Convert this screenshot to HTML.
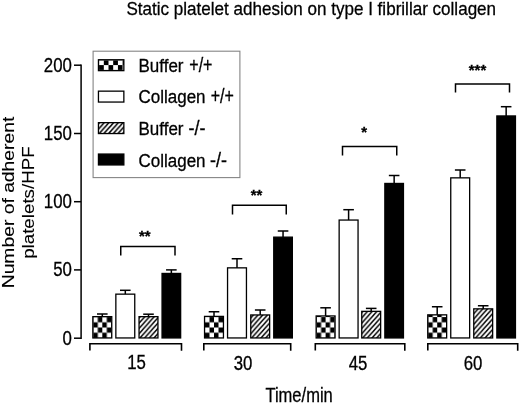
<!DOCTYPE html>
<html><head><meta charset="utf-8"><title>Static platelet adhesion</title>
<style>html,body{margin:0;padding:0;background:#fff}svg{display:block}text{font-family:"Liberation Sans",Arial,sans-serif;fill:#000;stroke:#000;stroke-width:0.3px}</style>
</head><body>
<svg width="520" height="404" viewBox="0 0 520 404">
<defs>
<pattern id="hat0" patternUnits="userSpaceOnUse" x="140.0" y="0" width="4.7" height="5.28"><rect width="4.7" height="5.28" fill="#fff"/><path d="M-1,6.4 L5.7,-1.12 M-5.7,6.4 L1,-1.12 M3.7,6.4 L10.4,-1.12" stroke="#000" stroke-width="1.5"/></pattern><pattern id="hat1" patternUnits="userSpaceOnUse" x="251.70000000000002" y="0" width="4.7" height="5.28"><rect width="4.7" height="5.28" fill="#fff"/><path d="M-1,6.4 L5.7,-1.12 M-5.7,6.4 L1,-1.12 M3.7,6.4 L10.4,-1.12" stroke="#000" stroke-width="1.5"/></pattern><pattern id="hat2" patternUnits="userSpaceOnUse" x="362.70000000000005" y="0" width="4.7" height="5.28"><rect width="4.7" height="5.28" fill="#fff"/><path d="M-1,6.4 L5.7,-1.12 M-5.7,6.4 L1,-1.12 M3.7,6.4 L10.4,-1.12" stroke="#000" stroke-width="1.5"/></pattern><pattern id="hat3" patternUnits="userSpaceOnUse" x="475.70000000000005" y="0" width="4.7" height="5.28"><rect width="4.7" height="5.28" fill="#fff"/><path d="M-1,6.4 L5.7,-1.12 M-5.7,6.4 L1,-1.12 M3.7,6.4 L10.4,-1.12" stroke="#000" stroke-width="1.5"/></pattern><pattern id="hatL" patternUnits="userSpaceOnUse" x="1.9" y="0" width="4.7" height="5.28"><rect width="4.7" height="5.28" fill="#fff"/><path d="M-1,6.4 L5.7,-1.12 M-5.7,6.4 L1,-1.12 M3.7,6.4 L10.4,-1.12" stroke="#000" stroke-width="1.6"/></pattern><pattern id="chk0" patternUnits="userSpaceOnUse" x="93.3" y="327.5" width="9.0" height="10.4"><rect width="9.0" height="10.4" fill="#fff"/><rect x="4.5" y="0" width="4.5" height="5.2" fill="#000"/><rect x="0" y="5.2" width="4.5" height="5.2" fill="#000"/></pattern><pattern id="chk1" patternUnits="userSpaceOnUse" x="205.0" y="327.5" width="9.0" height="10.4"><rect width="9.0" height="10.4" fill="#fff"/><rect x="4.5" y="0" width="4.5" height="5.2" fill="#000"/><rect x="0" y="5.2" width="4.5" height="5.2" fill="#000"/></pattern><pattern id="chk2" patternUnits="userSpaceOnUse" x="316.6" y="327.5" width="9.0" height="10.4"><rect width="9.0" height="10.4" fill="#fff"/><rect x="4.5" y="0" width="4.5" height="5.2" fill="#000"/><rect x="0" y="5.2" width="4.5" height="5.2" fill="#000"/></pattern><pattern id="chk3" patternUnits="userSpaceOnUse" x="428.20000000000005" y="327.5" width="9.0" height="10.4"><rect width="9.0" height="10.4" fill="#fff"/><rect x="4.5" y="0" width="4.5" height="5.2" fill="#000"/><rect x="0" y="5.2" width="4.5" height="5.2" fill="#000"/></pattern><pattern id="chkL" patternUnits="userSpaceOnUse" x="99.1" y="60.3" width="9.4" height="9.6"><rect width="9.4" height="9.6" fill="#fff"/><rect x="4.7" y="0" width="4.7" height="4.8" fill="#000"/><rect x="0" y="4.8" width="4.7" height="4.8" fill="#000"/></pattern>
</defs>
<rect width="520" height="404" fill="#fff"/>
<text transform="translate(126.4,15.2) scale(0.898,1)" font-size="19.0" text-anchor="start">Static platelet adhesion on type I fibrillar collagen</text>
<line x1="81.1" y1="64.45" x2="81.1" y2="339.0" stroke="#000" stroke-width="1.5"/>
<line x1="74" y1="65.2" x2="81.1" y2="65.2" stroke="#000" stroke-width="1.5"/>
<text transform="translate(71.9,71.60000000000001) scale(0.872,1)" font-size="19.3" text-anchor="end">200</text>
<line x1="74" y1="133.5" x2="81.1" y2="133.5" stroke="#000" stroke-width="1.5"/>
<text transform="translate(71.9,139.9) scale(0.872,1)" font-size="19.3" text-anchor="end">150</text>
<line x1="74" y1="201.7" x2="81.1" y2="201.7" stroke="#000" stroke-width="1.5"/>
<text transform="translate(71.9,208.1) scale(0.872,1)" font-size="19.3" text-anchor="end">100</text>
<line x1="74" y1="269.9" x2="81.1" y2="269.9" stroke="#000" stroke-width="1.5"/>
<text transform="translate(71.9,276.29999999999995) scale(0.872,1)" font-size="19.3" text-anchor="end">50</text>
<line x1="74" y1="338.2" x2="81.1" y2="338.2" stroke="#000" stroke-width="1.5"/>
<text transform="translate(71.9,344.59999999999997) scale(0.872,1)" font-size="19.3" text-anchor="end">0</text>
<text transform="translate(14,202.5) scale(0.857,1) rotate(-90)" font-size="19.3" text-anchor="middle" style="stroke-width:0.12px">Number of adherent</text>
<text transform="translate(34,202.6) scale(0.88,1) rotate(-90)" font-size="18.75" text-anchor="middle" style="stroke-width:0.12px">platelets/HPF</text>
<text transform="translate(299.1,401.6) scale(0.857,1)" font-size="19.3" text-anchor="middle">Time/min</text>
<line x1="102.3" y1="314" x2="102.3" y2="317" stroke="#000" stroke-width="1.5"/>
<line x1="97.0" y1="314" x2="107.6" y2="314" stroke="#000" stroke-width="1.5"/>
<rect x="92.85000000000001" y="316.65" width="18.9" height="21.300000000000022" fill="url(#chk0)" stroke="#000" stroke-width="1.3"/>
<line x1="125.3" y1="290.3" x2="125.3" y2="294.5" stroke="#000" stroke-width="1.5"/>
<line x1="120.0" y1="290.3" x2="130.6" y2="290.3" stroke="#000" stroke-width="1.5"/>
<rect x="115.85000000000001" y="294.15" width="18.9" height="43.800000000000026" fill="#fff" stroke="#000" stroke-width="1.3"/>
<line x1="148.5" y1="314.2" x2="148.5" y2="317" stroke="#000" stroke-width="1.5"/>
<line x1="143.2" y1="314.2" x2="153.8" y2="314.2" stroke="#000" stroke-width="1.5"/>
<rect x="139.05" y="316.65" width="18.9" height="21.300000000000022" fill="url(#hat0)" stroke="#000" stroke-width="1.3"/>
<line x1="171.35" y1="269.9" x2="171.35" y2="273.8" stroke="#000" stroke-width="1.5"/>
<line x1="166.04999999999998" y1="269.9" x2="176.65" y2="269.9" stroke="#000" stroke-width="1.5"/>
<rect x="162.05" y="273.45" width="18.599999999999998" height="64.50000000000001" fill="#000" stroke="#000" stroke-width="1.3"/>
<line x1="214.0" y1="311.75" x2="214.0" y2="316.75" stroke="#000" stroke-width="1.5"/>
<line x1="208.7" y1="311.75" x2="219.3" y2="311.75" stroke="#000" stroke-width="1.5"/>
<rect x="204.55" y="316.4" width="18.9" height="21.550000000000022" fill="url(#chk1)" stroke="#000" stroke-width="1.3"/>
<line x1="237.0" y1="258.75" x2="237.0" y2="268.2" stroke="#000" stroke-width="1.5"/>
<line x1="231.7" y1="258.75" x2="242.3" y2="258.75" stroke="#000" stroke-width="1.5"/>
<rect x="227.55" y="267.84999999999997" width="18.9" height="70.10000000000004" fill="#fff" stroke="#000" stroke-width="1.3"/>
<line x1="260.20000000000005" y1="310" x2="260.20000000000005" y2="315.3" stroke="#000" stroke-width="1.5"/>
<line x1="254.90000000000003" y1="310" x2="265.50000000000006" y2="310" stroke="#000" stroke-width="1.5"/>
<rect x="250.75000000000003" y="314.95" width="18.9" height="23.00000000000001" fill="url(#hat1)" stroke="#000" stroke-width="1.3"/>
<line x1="283.05" y1="231" x2="283.05" y2="237.5" stroke="#000" stroke-width="1.5"/>
<line x1="277.75" y1="231" x2="288.35" y2="231" stroke="#000" stroke-width="1.5"/>
<rect x="273.75" y="237.15" width="18.599999999999998" height="100.80000000000003" fill="#000" stroke="#000" stroke-width="1.3"/>
<line x1="325.6" y1="307.8" x2="325.6" y2="316.3" stroke="#000" stroke-width="1.5"/>
<line x1="320.3" y1="307.8" x2="330.90000000000003" y2="307.8" stroke="#000" stroke-width="1.5"/>
<rect x="316.15" y="315.95" width="18.9" height="22.00000000000001" fill="url(#chk2)" stroke="#000" stroke-width="1.3"/>
<line x1="348.6" y1="209.7" x2="348.6" y2="220.4" stroke="#000" stroke-width="1.5"/>
<line x1="343.3" y1="209.7" x2="353.90000000000003" y2="209.7" stroke="#000" stroke-width="1.5"/>
<rect x="339.15" y="220.05" width="18.9" height="117.90000000000002" fill="#fff" stroke="#000" stroke-width="1.3"/>
<line x1="371.20000000000005" y1="308.4" x2="371.20000000000005" y2="311.7" stroke="#000" stroke-width="1.5"/>
<line x1="365.90000000000003" y1="308.4" x2="376.50000000000006" y2="308.4" stroke="#000" stroke-width="1.5"/>
<rect x="361.75" y="311.34999999999997" width="18.9" height="26.600000000000033" fill="url(#hat2)" stroke="#000" stroke-width="1.3"/>
<line x1="394.15" y1="175.5" x2="394.15" y2="183.8" stroke="#000" stroke-width="1.5"/>
<line x1="388.84999999999997" y1="175.5" x2="399.45" y2="175.5" stroke="#000" stroke-width="1.5"/>
<rect x="384.84999999999997" y="183.45000000000002" width="18.599999999999998" height="154.5" fill="#000" stroke="#000" stroke-width="1.3"/>
<line x1="437.20000000000005" y1="306.75" x2="437.20000000000005" y2="315.2" stroke="#000" stroke-width="1.5"/>
<line x1="431.90000000000003" y1="306.75" x2="442.50000000000006" y2="306.75" stroke="#000" stroke-width="1.5"/>
<rect x="427.75" y="314.84999999999997" width="18.9" height="23.100000000000033" fill="url(#chk3)" stroke="#000" stroke-width="1.3"/>
<line x1="460.20000000000005" y1="170" x2="460.20000000000005" y2="178.2" stroke="#000" stroke-width="1.5"/>
<line x1="454.90000000000003" y1="170" x2="465.50000000000006" y2="170" stroke="#000" stroke-width="1.5"/>
<rect x="450.75" y="177.85" width="18.9" height="160.10000000000002" fill="#fff" stroke="#000" stroke-width="1.3"/>
<line x1="483.20000000000005" y1="305.75" x2="483.20000000000005" y2="309.2" stroke="#000" stroke-width="1.5"/>
<line x1="477.90000000000003" y1="305.75" x2="488.50000000000006" y2="305.75" stroke="#000" stroke-width="1.5"/>
<rect x="473.75" y="308.84999999999997" width="18.9" height="29.100000000000033" fill="url(#hat3)" stroke="#000" stroke-width="1.3"/>
<line x1="506.15000000000003" y1="106.7" x2="506.15000000000003" y2="116.3" stroke="#000" stroke-width="1.5"/>
<line x1="500.85" y1="106.7" x2="511.45000000000005" y2="106.7" stroke="#000" stroke-width="1.5"/>
<rect x="496.85" y="115.95" width="18.599999999999998" height="222.0" fill="#000" stroke="#000" stroke-width="1.3"/>
<path d="M89.9,350.5 V343.7 H181.5 V350.7" fill="none" stroke="#000" stroke-width="1.6"/>
<text transform="translate(136.6,368.7) scale(0.87,1)" font-size="19.3" text-anchor="middle">15</text>
<path d="M203.8,350.5 V343.7 H290.7 V350.7" fill="none" stroke="#000" stroke-width="1.6"/>
<text transform="translate(243,370.2) scale(0.87,1)" font-size="19.3" text-anchor="middle">30</text>
<path d="M315.3,350.5 V343.7 H404.8 V350.7" fill="none" stroke="#000" stroke-width="1.6"/>
<text transform="translate(358,370.2) scale(0.87,1)" font-size="19.3" text-anchor="middle">45</text>
<path d="M427.8,350.5 V343.7 H517.7 V350.7" fill="none" stroke="#000" stroke-width="1.6"/>
<text transform="translate(473.1,370.4) scale(0.87,1)" font-size="19.3" text-anchor="middle">60</text>
<path d="M120.75,255.5 V246.6 H175 V255.5" fill="none" stroke="#000" stroke-width="1.5"/>
<text transform="translate(144.8,240.8) scale(0.98,1)" font-size="15.25" text-anchor="middle" font-weight="bold">**</text>
<path d="M232.5,214.4 V205.3 H286.25 V214.4" fill="none" stroke="#000" stroke-width="1.5"/>
<text transform="translate(256.6,199.8) scale(0.98,1)" font-size="15.25" text-anchor="middle" font-weight="bold">**</text>
<path d="M342.5,155.5 V146.6 H396.75 V155.5" fill="none" stroke="#000" stroke-width="1.5"/>
<text transform="translate(364.1,136.5) scale(0.98,1)" font-size="15.25" text-anchor="middle" font-weight="bold">*</text>
<path d="M455.5,92.4 V83.9 H509.5 V92.4" fill="none" stroke="#000" stroke-width="1.5"/>
<text transform="translate(477.5,75.4) scale(0.98,1)" font-size="15.25" text-anchor="middle" font-weight="bold">***</text>
<rect x="93.1" y="51.2" width="146.8" height="126.4" fill="#fff" stroke="#858585" stroke-width="1.1"/>
<rect x="98.45" y="59.75" width="25.4" height="10.899999999999999" fill="url(#chkL)" stroke="#000" stroke-width="1.3"/>
<rect x="98.45" y="91.15" width="25.4" height="10.899999999999999" fill="#fff" stroke="#000" stroke-width="1.3"/>
<rect x="98.45" y="122.65" width="25.4" height="10.899999999999999" fill="url(#hatL)" stroke="#000" stroke-width="1.3"/>
<rect x="98.45" y="154.05" width="25.4" height="10.899999999999999" fill="#000" stroke="#000" stroke-width="1.3"/>
<text transform="translate(138.5,71.9) scale(0.895,1)" font-size="19.0" text-anchor="start">Buffer</text>
<text transform="translate(189.3,71.9) scale(0.83,1)" font-size="19.3" text-anchor="start">+/+</text>
<text transform="translate(138.5,103.1) scale(0.895,1)" font-size="19.0" text-anchor="start">Collagen</text>
<text transform="translate(210.7,103.1) scale(0.83,1)" font-size="19.3" text-anchor="start">+/+</text>
<text transform="translate(138.5,134.8) scale(0.895,1)" font-size="19.0" text-anchor="start">Buffer</text>
<text transform="translate(188.6,134.8) scale(0.93,1)" font-size="19.3" text-anchor="start">-/-</text>
<text transform="translate(138.5,166.7) scale(0.895,1)" font-size="19.0" text-anchor="start">Collagen</text>
<text transform="translate(210,166.7) scale(0.93,1)" font-size="19.3" text-anchor="start">-/-</text>
</svg>
</body></html>
